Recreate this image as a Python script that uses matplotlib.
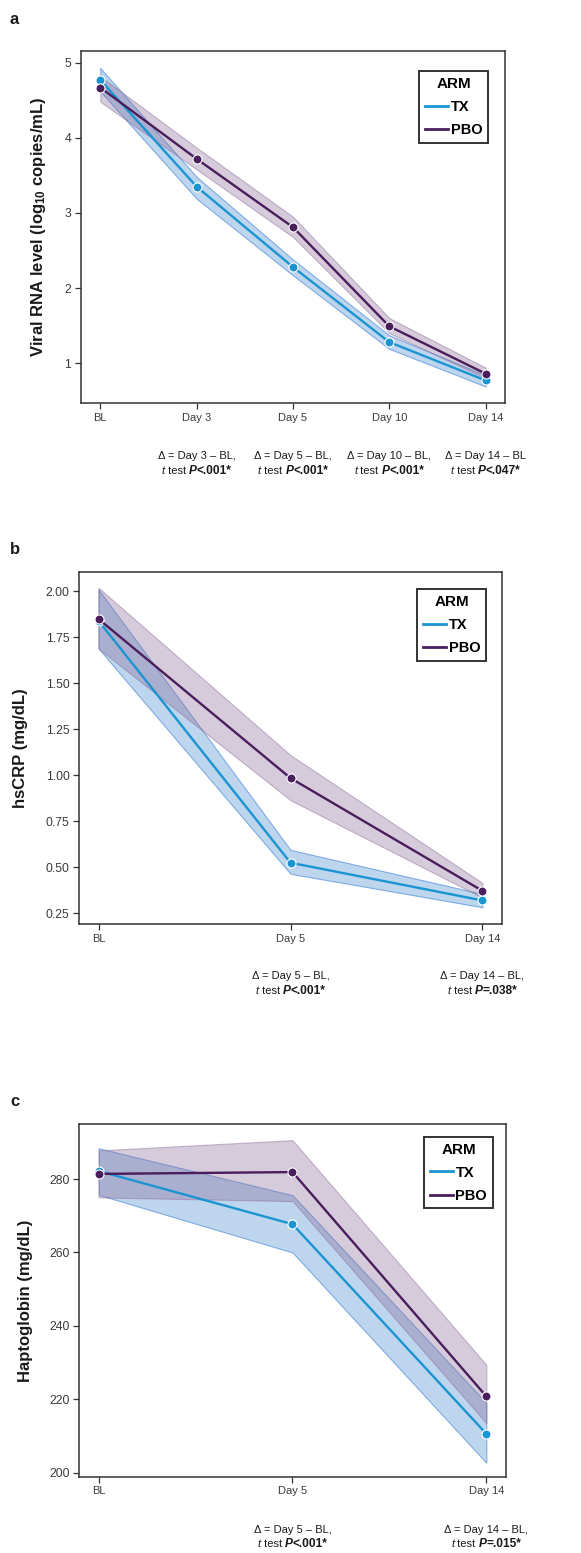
import numpy as np
import matplotlib
matplotlib.use('Agg')
import matplotlib.pyplot as plt
from matplotlib.offsetbox import TextArea, HPacker, VPacker, AnnotationBbox
from matplotlib.lines import Line2D

plt.rcParams['font.family'] = ['Liberation Sans', 'DejaVu Sans']
plt.rcParams['mathtext.fontset'] = 'custom'
plt.rcParams['mathtext.rm'] = 'Liberation Sans'
plt.rcParams['mathtext.bf'] = 'Liberation Sans:bold'
plt.rcParams['mathtext.default'] = 'regular'

# ---------------- data ----------------
arms = ['TX', 'PBO']

days_a = ['BL', 'Day 3', 'Day 5', 'Day 10', 'Day 14']
tx_a = [4.77, 3.35, 2.28, 1.28, 0.77]
tx_a_hi = [4.93, 3.48, 2.38, 1.37, 0.84]
tx_a_lo = [4.62, 3.19, 2.17, 1.19, 0.69]
pbo_a = [4.67, 3.72, 2.81, 1.49, 0.86]
pbo_a_hi = [4.82, 3.87, 2.95, 1.60, 0.94]
pbo_a_lo = [4.48, 3.58, 2.68, 1.40, 0.80]
yticks_a = [1, 2, 3, 4, 5]
notes_a_days = ['Day 3', 'Day 5', 'Day 10', 'Day 14']
notes_a_line1 = ['Δ = Day 3 – BL,', 'Δ = Day 5 – BL,', 'Δ = Day 10 – BL,', 'Δ = Day 14 – BL']
notes_a_p = ['<.001*', '<.001*', '<.001*', '<.047*']

days_b = ['BL', 'Day 5', 'Day 14']
tx_b = [1.84, 0.525, 0.32]
tx_b_hi = [2.01, 0.595, 0.355]
tx_b_lo = [1.69, 0.465, 0.283]
pbo_b = [1.85, 0.985, 0.372]
pbo_b_hi = [2.02, 1.11, 0.415]
pbo_b_lo = [1.69, 0.865, 0.335]
yticks_b = [0.25, 0.50, 0.75, 1.00, 1.25, 1.50, 1.75, 2.00]
notes_b_days = ['Day 5', 'Day 14']
notes_b_line1 = ['Δ = Day 5 – BL,', 'Δ = Day 14 – BL,']
notes_b_p = ['<.001*', '=.038*']

days_c = ['BL', 'Day 5', 'Day 14']
tx_c = [282.2, 267.7, 210.6]
tx_c_hi = [288.4, 275.6, 219.0]
tx_c_lo = [275.7, 260.0, 202.7]
pbo_c = [281.4, 281.9, 220.8]
pbo_c_hi = [287.8, 290.6, 229.4]
pbo_c_lo = [275.0, 274.0, 213.5]
yticks_c = [200, 220, 240, 260, 280]
notes_c_days = ['Day 5', 'Day 14']
notes_c_line1 = ['Δ = Day 5 – BL,', 'Δ = Day 14 – BL,']
notes_c_p = ['<.001*', '=.015*']

# ---------------- style ----------------
TX_COLOR = '#1b95d2'
PBO_COLOR = '#4a1d5c'
TX_FILL = (0.435, 0.64, 0.86, 0.45)
TX_EDGE = (0.30, 0.55, 0.85, 0.65)
PBO_FILL = (0.54, 0.415, 0.59, 0.35)
PBO_EDGE = (0.54, 0.415, 0.59, 0.45)
SPINE = '#333333'
W, H = 581, 1553

fig = plt.figure(figsize=(W / 100, H / 100), dpi=100)


def px_axes(left, top, right, bottom):
    return fig.add_axes([left / W, 1 - bottom / H, (right - left) / W, (bottom - top) / H])


def draw_panel(ax, days, tx, tx_lo, tx_hi, pbo, pbo_lo, pbo_hi, yticks, ylim,
               ylabel, ylabel_x, leg_anchor, note_days, note_l1, note_p, note_off):
    x = np.arange(len(days))
    series = [(tx, tx_lo, tx_hi, TX_COLOR, TX_FILL, TX_EDGE),
              (pbo, pbo_lo, pbo_hi, PBO_COLOR, PBO_FILL, PBO_EDGE)]
    for vals, lo, hi, col, fc, ec in series:
        ax.fill_between(x, lo, hi, facecolor=fc, edgecolor=ec, linewidth=0.8, zorder=1)
    for vals, lo, hi, col, fc, ec in series:
        ax.plot(x, vals, color=col, lw=1.7, marker='o', markersize=6.5,
                markeredgecolor='white', markeredgewidth=0.8, zorder=3)
    ax.set_xticks(x)
    ax.set_xticklabels(days)
    ax.set_xlim(-0.05 * (len(days) - 1), (len(days) - 1) * 1.05)
    ax.set_yticks(yticks)
    if isinstance(yticks[0], float):
        ax.set_yticklabels([f'{v:.2f}' for v in yticks])
    ax.set_ylim(*ylim)
    for s in ax.spines.values():
        s.set_color(SPINE)
        s.set_linewidth(1.1)
    ax.tick_params(length=4, width=0.9, color=SPINE, labelsize=8,
                   labelcolor='#3a3a3a', pad=3)
    ax.tick_params(axis='y', labelsize=8.8)
    ax.set_ylabel(ylabel, fontsize=12, fontweight='bold', color='#1a1a1a')
    ax.yaxis.set_label_coords(ylabel_x, 0.5)
    handles = [Line2D([], [], color=TX_COLOR, lw=2), Line2D([], [], color=PBO_COLOR, lw=2)]
    leg = ax.legend(handles, arms, title='ARM', loc='upper right', bbox_to_anchor=leg_anchor,
                    borderaxespad=0, frameon=True, fancybox=False, edgecolor='black',
                    prop=dict(weight='bold', size=10.5),
                    title_fontproperties=dict(weight='bold', size=11),
                    handlelength=1.6, handletextpad=0.15, borderpad=0.4,
                    labelspacing=0.62)
    leg.get_frame().set_linewidth(1.4)
    for d, l1, p in zip(note_days, note_l1, note_p):
        xi = days.index(d)
        tp = dict(fontsize=8, color='#1a1a1a')
        tpb = dict(fontsize=8.6, color='#1a1a1a', fontweight='bold')
        line2 = HPacker(children=[
            TextArea('t', textprops=dict(tp, fontstyle='italic')),
            TextArea(' test ', textprops=tp),
            TextArea('P', textprops=dict(tpb, fontstyle='italic')),
            TextArea(p, textprops=tpb),
        ], align='baseline', pad=0, sep=0)
        box = VPacker(children=[TextArea(l1, textprops=tp), line2],
                      align='center', pad=0, sep=2.2)
        ab = AnnotationBbox(box, (xi, 0), xycoords=('data', 'axes fraction'),
                            xybox=(0, -note_off), boxcoords='offset pixels',
                            frameon=False, box_alignment=(0.5, 0.5),
                            annotation_clip=False)
        ax.add_artist(ab)


ax_a = px_axes(81, 51, 505, 403)
draw_panel(ax_a, days_a, tx_a, tx_a_lo, tx_a_hi, pbo_a, pbo_a_lo, pbo_a_hi,
           yticks_a, (0.47, 5.156), 'Viral RNA level (log$_{10}$ copies/mL)', -0.078,
           (0.960, 0.943), notes_a_days, notes_a_line1, notes_a_p, 61)

ax_b = px_axes(79.3, 571.7, 501.7, 924)
draw_panel(ax_b, days_b, tx_b, tx_b_lo, tx_b_hi, pbo_b, pbo_b_lo, pbo_b_hi,
           yticks_b, (0.192, 2.107), 'hsCRP (mg/dL)', -0.121,
           (0.963, 0.951), notes_b_days, notes_b_line1, notes_b_p, 60)

ax_c = px_axes(79.3, 1124, 505.7, 1476.7)
draw_panel(ax_c, days_c, tx_c, tx_c_lo, tx_c_hi, pbo_c, pbo_c_lo, pbo_c_hi,
           yticks_c, (198.9, 295.0), 'Haptoglobin (mg/dL)', -0.109,
           (0.970, 0.964), notes_c_days, notes_c_line1, notes_c_p, 61)

for lab, ypx in [('a', 20), ('b', 550), ('c', 1102)]:
    fig.text(10 / W, 1 - ypx / H, lab, fontsize=12, fontweight='bold',
             va='center', ha='left', color='#1a1a1a')

fig.savefig('out.png', dpi=100)
